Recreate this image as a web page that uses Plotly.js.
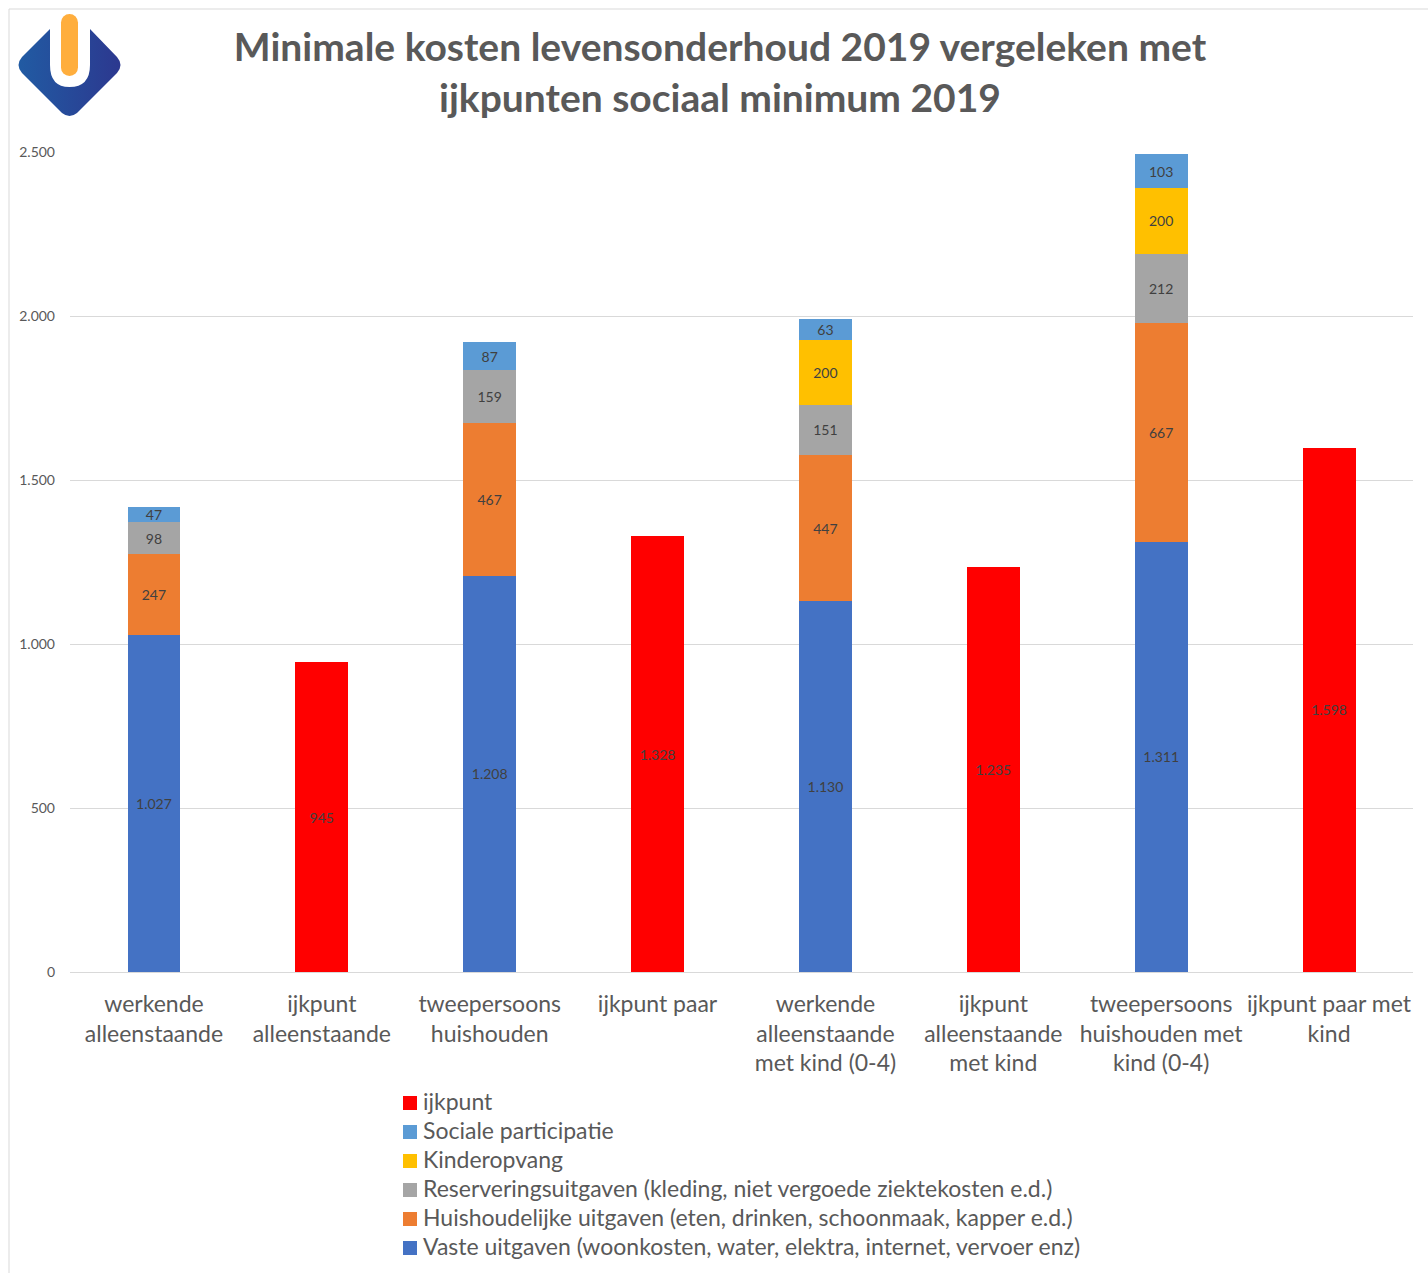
<!DOCTYPE html>
<html>
<head>
<meta charset="utf-8">
<script src="https://cdn.plot.ly/plotly-3.0.1.min.js"></script>
<style>html,body{margin:0;padding:0;background:#fff}</style>
</head>
<body>
<div id="chart" style="width:1428px;height:1273px"></div>
<script>
const categories = ["werkende<br>alleenstaande","ijkpunt<br>alleenstaande","tweepersoons<br>huishouden","ijkpunt paar","werkende<br>alleenstaande<br>met kind (0-4)","ijkpunt<br>alleenstaande<br>met kind","tweepersoons<br>huishouden met<br>kind (0-4)","ijkpunt paar met<br>kind"];
const vaste = [1027,null,1208,null,1130,null,1311,null];
const huishoudelijk = [247,null,467,null,447,null,667,null];
const reservering = [98,null,159,null,151,null,212,null];
const kinderopvang = [null,null,null,null,200,null,200,null];
const sociaal = [47,null,87,null,63,null,103,null];
const ijkpunt = [null,945,null,1328,null,1235,null,1598];
const seriesNames = ["Vaste uitgaven (woonkosten, water, elektra, internet, vervoer enz)","Huishoudelijke uitgaven (eten, drinken, schoonmaak, kapper e.d.)","Reserveringsuitgaven (kleding, niet vergoede ziektekosten e.d.)","Kinderopvang","Sociale participatie","ijkpunt"];
const seriesColors = ["#4472c4","#ed7d31","#a5a5a5","#ffc000","#5b9bd5","#ff0000"];
const seriesValues = [vaste,huishoudelijk,reservering,kinderopvang,sociaal,ijkpunt];
const FONT = "Lato, 'Open Sans', sans-serif";

const traces = seriesValues.map((v,i)=>({
  type:'bar', x:categories, y:v, name:seriesNames[i],
  marker:{color:seriesColors[i]},
  texttemplate:'%{y:,.0f}', textposition:'inside', insidetextanchor:'middle',
  constraintext:'none', textangle:0,
  textfont:{family:FONT,size:14,color:'#404040'},
  hoverinfo:'x+y+name', showlegend:false
}));

const PW=1343, PH=820, PL=70, PB=972;
const px=x=>(x-PL)/PW, py=y=>(PB-y)/PH;
const logo = `<svg xmlns="http://www.w3.org/2000/svg" width="140" height="130" viewBox="0 0 140 130"><defs><linearGradient id="g" x1="0" x2="1" y1="0" y2="0"><stop offset="0" stop-color="#215ba3"/><stop offset="1" stop-color="#2c388f"/></linearGradient></defs><path d="M50 29 L22 57 Q15 65 22 73 L62 113 Q69.5 119 77 113 L117 73 Q124 65 117 57 L90 29 L90 65 Q90 87 69.5 87 Q50 87 50 65 Z" fill="url(#g)"/><rect x="61" y="14" width="17" height="62" rx="8.5" fill="#ffae3d"/></svg>`;

// Legend drawn top to bottom in the reference's order
const legendOrder = seriesNames.map((_,i)=>seriesNames.length-1-i);
const legendShapes = legendOrder.map((s,row)=>({
  type:'rect',xref:'paper',yref:'paper',layer:'above',
  x0:px(403),x1:px(417),y0:py(1110+29*row),y1:py(1096+29*row),
  fillcolor:seriesColors[s],line:{width:0}
}));
const legendTexts = legendOrder.map((s,row)=>({
  xref:'paper',yref:'paper',x:px(421),y:py(1100.5+29*row),xanchor:'left',yanchor:'middle',
  text:seriesNames[s],showarrow:false,align:'left',
  font:{family:FONT,size:23,color:'#595959'}
}));

const layout = {
  width:1428, height:1273,
  margin:{l:PL,r:15,t:152,b:301,pad:0},
  paper_bgcolor:'#fff', plot_bgcolor:'#fff',
  separators:',.',
  barmode:'stack', bargap:0.685,
  font:{family:FONT,color:'#595959'},
  title:{text:'<b>Minimale kosten levensonderhoud 2019 vergeleken met<br>ijkpunten sociaal minimum 2019</b>',
    font:{family:FONT,size:39,color:'#595959'},
    x:720/1428, xanchor:'center', xref:'container', y:1-61/1273, yanchor:'top', yref:'container', automargin:false},
  xaxis:{type:'category',categoryorder:'array',categoryarray:categories,tickangle:0,ticks:'',
    tickfont:{family:FONT,size:23,color:'#595959'},ticklabelstandoff:11,
    showline:true,linecolor:'#d9d9d9',linewidth:1,showgrid:false,automargin:false},
  yaxis:{range:[0,2500],tick0:0,dtick:500,tickformat:',d',ticks:'',
    tickfont:{family:FONT,size:14,color:'#595959'},ticklabelstandoff:14,
    showgrid:true,gridcolor:'#d9d9d9',gridwidth:1,zeroline:false,showline:false,automargin:false},
  showlegend:false,
  annotations:legendTexts,
  shapes:[
    {type:'line',xref:'paper',yref:'paper',x0:px(9),x1:px(9),y0:py(9),y1:py(1273),line:{color:'#d9d9d9',width:1}},
    {type:'line',xref:'paper',yref:'paper',x0:px(9),x1:px(1428),y0:py(9),y1:py(9),line:{color:'#d9d9d9',width:1}}
  ].concat(legendShapes),
  images:[{source:'data:image/svg+xml;utf8,'+encodeURIComponent(logo),xref:'paper',yref:'paper',
    x:px(0),y:py(0),sizex:140/PW,sizey:130/PH,sizing:'stretch',xanchor:'left',yanchor:'top',layer:'above'}]
};
Plotly.newPlot('chart',traces,layout,{displayModeBar:false,responsive:false});
</script>
</body>
</html>
